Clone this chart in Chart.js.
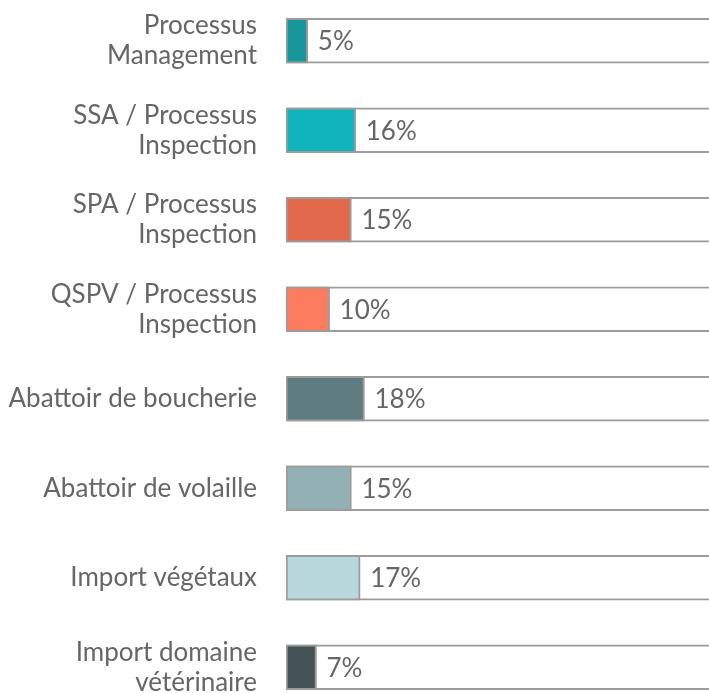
<!DOCTYPE html>
<html>
<head>
<meta charset="utf-8">
<script src="https://cdn.jsdelivr.net/npm/chart.js@4"></script>
<style>
    html, body { margin: 0; padding: 0; background: #fff; overflow: hidden; }
    #myChart { position: absolute; left: 0; top: -4px; }
</style>
</head>
<body>
<canvas id="myChart" width="709" height="716"></canvas>
<script>
const labels = [
    ['Processus', 'Management'],
    ['SSA / Processus', 'Inspection'],
    ['SPA / Processus', 'Inspection'],
    ['QSPV / Processus', 'Inspection'],
    'Abattoir de boucherie',
    'Abattoir de volaille',
    'Import végétaux',
    ['Import domaine', 'vétérinaire']
];
const values = [5, 16, 15, 10, 18, 15, 17, 7];
const colors = ['#17969b', '#12b4bb', '#e2694b', '#fb7c5f', '#5f7d80', '#93b0b4', '#b9d8dc', '#455357'];
const trackValues = [100, 100, 100, 100, 100, 100, 100, 100];

// percentage text drawn just right of each filled bar
const valueLabels = {
    id: 'valueLabels',
    afterDatasetsDraw(chart) {
        const ctx = chart.ctx;
        const meta = chart.getDatasetMeta(1);
        ctx.save();
        ctx.font = '26px Lato';
        ctx.fillStyle = '#666';
        ctx.textBaseline = 'middle';
        meta.data.forEach((bar, i) => {
            ctx.fillText(values[i] + '%', bar.x + 10, bar.y + 1);
        });
        ctx.restore();
    }
};

const ctx = document.getElementById('myChart').getContext('2d');
new Chart(ctx, {
    type: 'bar',
    data: {
        labels: labels,
        datasets: [{
            data: trackValues,
            backgroundColor: '#fff',
            borderColor: '#9c9c9c',
            borderWidth: 2,
            borderSkipped: false,
            barThickness: 45,
            grouped: false,
            order: 2
        }, {
            data: values,
            backgroundColor: colors,
            borderColor: '#9c9c9c',
            borderWidth: 2,
            borderSkipped: false,
            barThickness: 45,
            grouped: false,
            order: 1
        }]
    },
    options: {
        indexAxis: 'y',
        responsive: false,
        animation: false,
        layout: { padding: 0 },
        plugins: {
            legend: { display: false },
            tooltip: { enabled: false }
        },
        scales: {
            x: {
                min: 0,
                max: 97,
                display: false
            },
            y: {
                grid: { display: false, drawTicks: false },
                border: { display: false },
                afterFit(scale) {
                    scale.width = 286;
                    scale.paddingTop = 0;
                    scale.paddingBottom = 0;
                },
                ticks: {
                    color: '#666',
                    padding: 29,
                    font: { family: 'Lato', size: 26, lineHeight: 1.15 }
                }
            }
        }
    },
    plugins: [valueLabels]
});
</script>
</body>
</html>
